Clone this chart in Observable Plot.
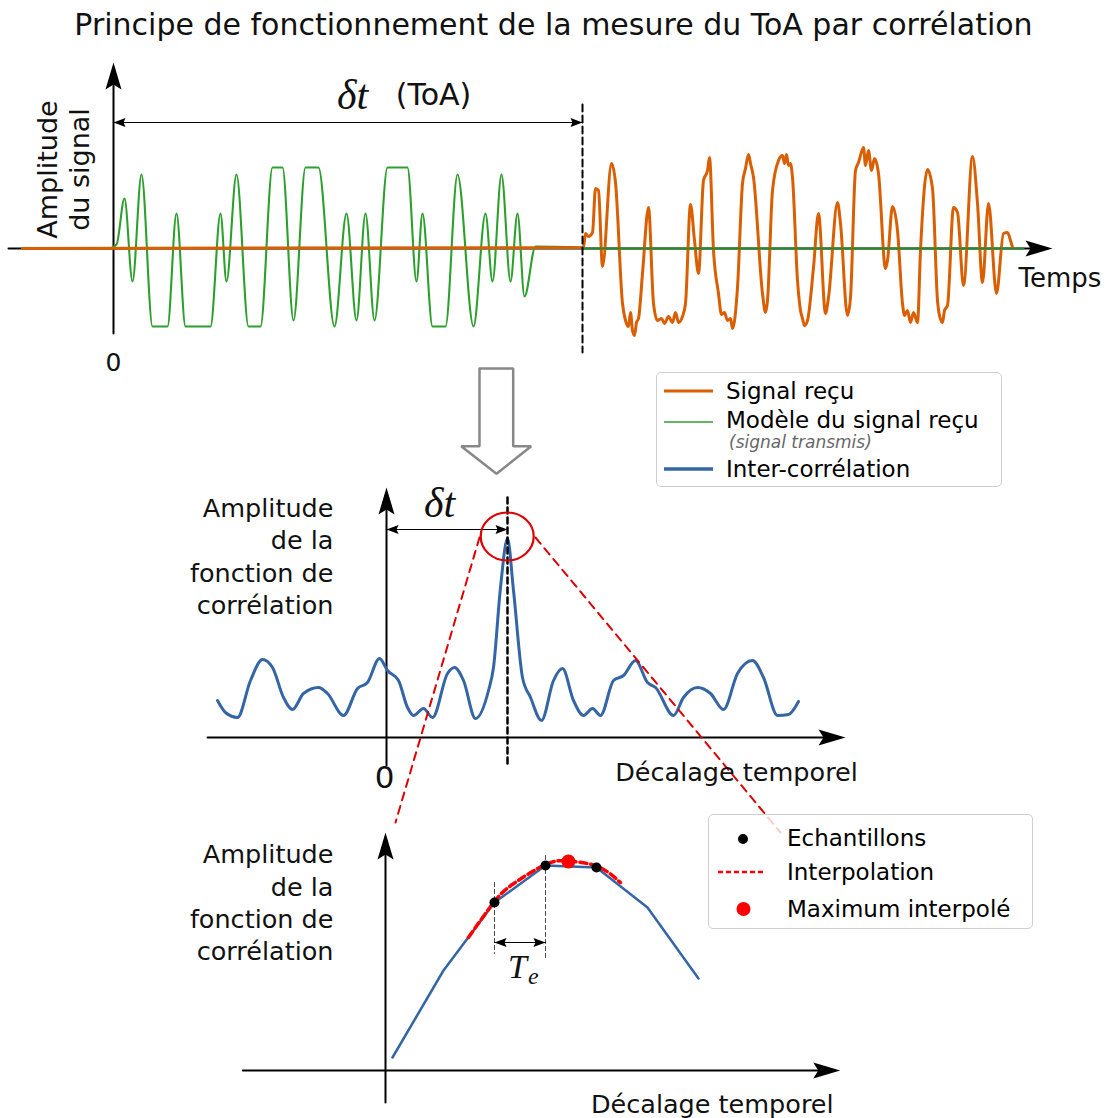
<!DOCTYPE html>
<html><head><meta charset="utf-8">
<script src="https://cdn.jsdelivr.net/npm/d3@7"></script>
<script src="https://cdn.jsdelivr.net/npm/@observablehq/plot@0.6"></script>
<style>
body{margin:0;background:#fff;font-family:"DejaVu Sans",sans-serif;}
#wrap{position:relative;width:1107px;height:1118px;overflow:hidden;background:#fff;}
#title{position:absolute;left:0;top:6px;width:1107px;text-align:center;font-size:30px;line-height:38px;color:#111;}
.legend{position:absolute;background:rgba(255,255,255,0.8);border:1.5px solid #cfcfcf;border-radius:5px;box-sizing:border-box;}
.legend svg{position:absolute;left:0;top:0;overflow:visible;}
</style></head>
<body><div id="wrap"><div id="title">Principe de fonctionnement de la mesure du ToA par corrélation</div></div>
<script>
// ---------------- DATA ----------------
// Panel 1 : time (arbitrary units) , amplitude
const modelSignal = [[-0.91,0],[-0.05,0],[0.03,0.04],[0.11,0.50],[0.19,-0.33],[0.28,0.74],[0.39,-0.78],[0.54,-0.78],[0.63,0.35],[0.72,-0.78],[0.97,-0.78],[1.07,0.35],[1.13,-0.33],[1.23,0.74],[1.35,-0.78],[1.47,-0.78],[1.59,0.81],[1.69,0.81],[1.80,-0.72],[1.92,0.81],[2.05,0.81],[2.21,-0.78],[2.33,0.35],[2.43,-0.72],[2.52,0.35],[2.61,-0.72],[2.74,0.81],[2.94,0.81],[3.03,-0.33],[3.09,0.35],[3.19,-0.78],[3.32,-0.78],[3.44,0.74],[3.60,-0.78],[3.72,0.35],[3.79,-0.33],[3.88,0.74],[3.97,-0.33],[4.04,0.35],[4.11,-0.48],[4.22,0.02],[4.67,0.01]];
const modelTail = [[4.69,0],[9.1,0]];
const receivedSignal = [[-0.91,0],[4.70,0.01],[4.72,0.15],[4.75,0.12],[4.79,0.16],[4.82,0.60],[4.85,0.58],[4.89,-0.18],[4.98,0.85],[5.02,0.66],[5.09,-0.55],[5.12,-0.72],[5.15,-0.78],[5.17,-0.64],[5.19,-0.82],[5.21,-0.87],[5.23,-0.74],[5.25,-0.70],[5.29,-0.25],[5.35,0.41],[5.40,-0.55],[5.44,-0.72],[5.48,-0.70],[5.51,-0.75],[5.55,-0.68],[5.59,-0.74],[5.62,-0.64],[5.65,-0.74],[5.69,-0.68],[5.72,-0.55],[5.77,0.44],[5.81,0.08],[5.85,-0.25],[5.90,0.68],[5.94,0.78],[5.96,0.91],[6.00,-0.02],[6.05,-0.45],[6.08,-0.66],[6.11,-0.64],[6.14,-0.72],[6.17,-0.70],[6.19,-0.80],[6.24,-0.39],[6.29,0.65],[6.32,0.80],[6.35,0.94],[6.37,0.85],[6.40,0.71],[6.49,-0.45],[6.52,-0.64],[6.54,-0.52],[6.59,0.58],[6.65,0.88],[6.69,0.93],[6.71,0.85],[6.73,0.94],[6.75,0.83],[6.77,0.85],[6.79,0.71],[6.84,-0.32],[6.87,-0.62],[6.89,-0.70],[6.91,-0.77],[6.94,-0.72],[7.00,-0.19],[7.05,0.35],[7.12,-0.65],[7.15,-0.49],[7.24,0.46],[7.27,0.25],[7.34,-0.67],[7.37,-0.49],[7.42,0.78],[7.45,0.86],[7.50,1.01],[7.52,0.83],[7.55,0.98],[7.58,0.78],[7.61,0.90],[7.65,0.75],[7.72,-0.20],[7.74,-0.12],[7.79,0.42],[7.84,0.18],[7.89,-0.55],[7.91,-0.67],[7.94,-0.62],[7.97,-0.74],[8.00,-0.64],[8.04,-0.74],[8.07,-0.02],[8.14,0.79],[8.19,0.60],[8.24,-0.52],[8.26,-0.67],[8.29,-0.74],[8.31,-0.62],[8.34,-0.57],[8.40,0.41],[8.44,0.36],[8.50,-0.37],[8.59,0.92],[8.64,0.45],[8.69,-0.34],[8.75,0.45],[8.83,-0.45],[8.90,0.15],[8.94,0.16],[8.97,0.08],[8.99,0.01]];
const toa = 4.69;
const zeroTick = ["0"];

// Panel 2 : lag , correlation amplitude
const crossCorr = [[-1.69,0.37],[-1.61,0.25],[-1.49,0.20],[-1.36,0.57],[-1.24,0.78],[-1.14,0.70],[-1.03,0.40],[-0.94,0.28],[-0.83,0.44],[-0.68,0.50],[-0.59,0.44],[-0.43,0.22],[-0.29,0.49],[-0.19,0.55],[-0.07,0.79],[0.01,0.67],[0.12,0.57],[0.21,0.30],[0.27,0.22],[0.37,0.29],[0.46,0.20],[0.61,0.64],[0.68,0.70],[0.77,0.57],[0.89,0.19],[1.02,0.47],[1.07,0.70],[1.14,1.50],[1.21,1.99],[1.27,1.47],[1.36,0.60],[1.44,0.40],[1.55,0.17],[1.67,0.57],[1.76,0.69],[1.87,0.37],[1.97,0.22],[2.06,0.29],[2.14,0.22],[2.27,0.57],[2.37,0.62],[2.49,0.77],[2.61,0.55],[2.69,0.50],[2.87,0.22],[2.97,0.40],[3.11,0.50],[3.24,0.44],[3.37,0.28],[3.51,0.64],[3.66,0.77],[3.77,0.60],[3.91,0.22],[4.02,0.23],[4.12,0.36]];
const peakLag = 1.21;

// Panel 3 : sample index (units of Te) , amplitude
const sampleK = [0,1,2,3,4,5,6];
const sampleAmp = [0.13,1.00,1.68,2.05,2.03,1.63,0.92];
const shownSamples = [2,3,4];
const interpCurve = [[1.49,1.33],[2.00,1.69],[2.38,1.87],[3.00,2.06],[3.45,2.095],[4.02,2.04],[4.47,1.88]];
const interpMax = [[3.45,2.09]];

const legendTop = ["Signal reçu","Modèle du signal reçu","(signal transmis)","Inter-corrélation"];
const legendBottom = ["Echantillons","Interpolation","Maximum interpolé"];

// ---------------- STYLE ----------------
const W = 1107;
const cOrange = "#d95f02", cGreen = "#2ca02c", cGreenDark = "#2a8a2a", cBlue = "#3465a4", cRed = "#dd0000";
const wrap = document.getElementById("wrap");

function head(dir, L, hw, n) {
  const map = {up:(u,v)=>[u,v], down:(u,v)=>[u,-v], right:(u,v)=>[-v,u], left:(u,v)=>[v,u]}[dir];
  const pts = [[0,0],[hw,L],[0,L-n],[-hw,L]].map(([u,v])=>map(u,v));
  return {draw(ctx){ctx.moveTo(pts[0][0],pts[0][1]); for(let i=1;i<pts.length;i++) ctx.lineTo(pts[i][0],pts[i][1]); ctx.closePath();}};
}
function ellipse(rx, ry){ const k=0.5523; return {draw(ctx){
  ctx.moveTo(rx,0); ctx.bezierCurveTo(rx,ry*k,rx*k,ry,0,ry); ctx.bezierCurveTo(-rx*k,ry,-rx,ry*k,-rx,0);
  ctx.bezierCurveTo(-rx,-ry*k,-rx*k,-ry,0,-ry); ctx.bezierCurveTo(rx*k,-ry,rx,-ry*k,rx,0); ctx.closePath();}}; }
const px = d=>d[0], py = d=>d[1];
const seg = (pts, o={}) => Plot.line(pts, {x:px, y:py, stroke:"black", strokeWidth:2, ...o});
const tip = (p, sym) => Plot.dot([p], {x:px, y:py, symbol:sym, fill:"black", stroke:"none", r:5});
const label = (p, text, o={}) => Plot.text([p], {x:px, y:py, text:()=>text, fontSize:25.5, fill:"#111", ...o});

function panel(top, height, xdom, ydom, marks){
  const svg = Plot.plot({width:W, height, margin:0, x:{domain:xdom, axis:null}, y:{domain:ydom, axis:null},
    style:{background:"transparent", overflow:"visible", fontFamily:"DejaVu Sans"}, marks});
  svg.style.position="absolute"; svg.style.left="0px"; svg.style.top=top+"px";
  wrap.appendChild(svg);
}
const bigHead = d => head(d, 27, 8, 5);
const smallHead = d => head(d, 12, 4.5, 2);

// ---------------- PANEL 1 ----------------
const hollowArrow = [[3.66,-1.20],[3.997,-1.20],[3.997,-1.977],[4.177,-1.977],[3.83,-2.253],[3.477,-1.977],[3.66,-1.977],[3.66,-1.20]];
panel(55, 425, [-1.13, 9.94], [-2.32, 1.93], [
  seg([[-1.05,0],[9.29,0]]),
  seg([[0,-0.85],[0,1.76]]),
  tip([9.39,0], bigHead("right")),
  tip([0,1.86], bigHead("up")),
  Plot.line(modelSignal, {x:px, y:py, stroke:cGreen, strokeWidth:2.1, curve:"monotone-x"}),
  Plot.line(receivedSignal, {x:px, y:py, stroke:cOrange, strokeWidth:3, curve:"monotone-x", strokeLinejoin:"round"}),
  Plot.line(modelTail, {x:px, y:py, stroke:cGreenDark, strokeWidth:2}),
  seg([[toa,1.44],[toa,-1.04]], {strokeDasharray:"7,4"}),
  seg([[0,1.26],[toa,1.26]], {strokeWidth:1.2}),
  tip([0,1.26], smallHead("left")),
  tip([toa,1.26], smallHead("right")),
  label([2.39,1.53], "δt", {fontSize:42, fontFamily:"Liberation Serif", fontStyle:"italic"}),
  label([3.20,1.53], "(ToA)", {fontSize:30}),
  label([9.05,-0.30], "Temps", {fontSize:26, textAnchor:"start"}),
  label([0,-1.14], zeroTick[0], {fontSize:25}),
  label([-0.51,0.79], "Amplitude\ndu signal", {fontSize:27, rotate:-90, lineHeight:1.185}),
  Plot.line(hollowArrow, {x:px, y:py, stroke:"#888", strokeWidth:2.5, strokeLinejoin:"miter"})
]);

// ---------------- PANEL 2 ----------------
panel(478, 367, [-3.86, 7.21], [-1.08, 2.59], [
  seg([[-1.79,0],[4.49,0]]),
  seg([[0,-0.28],[0,2.40]]),
  tip([4.59,0], bigHead("right")),
  tip([0,2.50], bigHead("up")),
  Plot.line(crossCorr, {x:px, y:py, stroke:cBlue, strokeWidth:3, curve:"monotone-x"}),
  seg([[peakLag,2.40],[peakLag,-0.28]], {strokeDasharray:"6,4", strokeWidth:2.5}),
  seg([[0,2.08],[peakLag,2.08]], {strokeWidth:1.2}),
  tip([0,2.08], smallHead("left")),
  tip([peakLag,2.08], smallHead("right")),
  Plot.dot([[1.207,2.01]], {x:px, y:py, symbol:ellipse(26.5,24), fill:"none", stroke:cRed, strokeWidth:2.2}),
  seg([[0.93,2.00],[0.09,-0.85]], {stroke:cRed, strokeDasharray:"8,6"}),
  seg([[1.49,2.00],[3.94,-0.95]], {stroke:cRed, strokeDasharray:"8,6"}),
  label([0.53,2.34], "δt", {fontSize:42, fontFamily:"Liberation Serif", fontStyle:"italic"}),
  label([-0.02,-0.41], zeroTick[0], {fontSize:31}),
  label([3.50,-0.35], "Décalage temporel", {fontSize:25.5}),
  label([-0.53,1.825], "Amplitude\nde la\nfonction de\ncorrélation", {textAnchor:"end", lineHeight:1.27})
]);

// ---------------- PANEL 3 ----------------
const samples = sampleK.map((k,i)=>[k, sampleAmp[i]]);
panel(825, 293, [-7.686, 14.02], [-0.48, 2.45], [
  seg([[-2.935,0],[8.58,0]]),
  seg([[-0.137,-0.32],[-0.137,2.28]]),
  tip([8.78,0], bigHead("right")),
  tip([-0.137,2.38], bigHead("up")),
  seg([[2,1.88],[2,1.17]], {stroke:"#444", strokeWidth:1, strokeDasharray:"4,3"}),
  seg([[3,2.15],[3,1.13]], {stroke:"#444", strokeWidth:1, strokeDasharray:"4,3"}),
  Plot.line(samples, {x:px, y:py, stroke:cBlue, strokeWidth:2.5}),
  Plot.line(interpCurve, {x:px, y:py, stroke:"#ff0000", strokeWidth:3.5, strokeDasharray:"7,4", curve:"natural"}),
  Plot.dot(shownSamples.map(i=>samples[i]), {x:px, y:py, r:5, fill:"black"}),
  Plot.dot(interpMax, {x:px, y:py, r:7, fill:"#ff0000"}),
  seg([[2,1.28],[3,1.28]], {strokeWidth:1.2}),
  tip([2,1.28], smallHead("left")),
  tip([3,1.28], smallHead("right")),
  label([2.45,1.03], "T", {fontSize:34, fontFamily:"Liberation Serif", fontStyle:"italic"}),
  label([2.76,0.94], "e", {fontSize:24, fontFamily:"Liberation Serif", fontStyle:"italic"}),
  label([6.27,-0.34], "Décalage temporel", {fontSize:25.5}),
  label([-1.157,1.69], "Amplitude\nde la\nfonction de\ncorrélation", {textAnchor:"end", lineHeight:1.27})
]);

// ---------------- LEGENDS ----------------
function legendBox(left, top, w, h, inner){
  const d = document.createElement("div"); d.className="legend";
  Object.assign(d.style,{left:left+"px", top:top+"px", width:w+"px", height:h+"px"});
  d.innerHTML = `<svg width="${w}" height="${h}" font-family="DejaVu Sans" font-size="23">${inner}</svg>`;
  wrap.appendChild(d);
}
legendBox(656, 372, 346, 115, `
  <line x1="7" x2="56" y1="18" y2="18" stroke="${cOrange}" stroke-width="3"/>
  <text x="69" y="18" dominant-baseline="central">${legendTop[0]}</text>
  <line x1="7" x2="56" y1="49" y2="49" stroke="${cGreen}" stroke-width="1.6"/>
  <text x="69" y="47" dominant-baseline="central">${legendTop[1]}</text>
  <text x="72" y="69" dominant-baseline="central" font-size="17" font-style="italic" fill="#666">${legendTop[2]}</text>
  <line x1="7" x2="56" y1="96" y2="96" stroke="${cBlue}" stroke-width="3.5"/>
  <text x="69" y="96" dominant-baseline="central">${legendTop[3]}</text>`);
legendBox(708, 814, 325, 115, `
  <circle cx="34" cy="24" r="5" fill="black"/>
  <text x="78" y="23" dominant-baseline="central">${legendBottom[0]}</text>
  <line x1="9" x2="57" y1="57" y2="57" stroke="#ff0000" stroke-width="2.5" stroke-dasharray="5,3"/>
  <text x="78" y="57" dominant-baseline="central">${legendBottom[1]}</text>
  <circle cx="34.5" cy="94" r="7" fill="#ff0000"/>
  <text x="78" y="94" dominant-baseline="central">${legendBottom[2]}</text>`);
</script></body></html>
